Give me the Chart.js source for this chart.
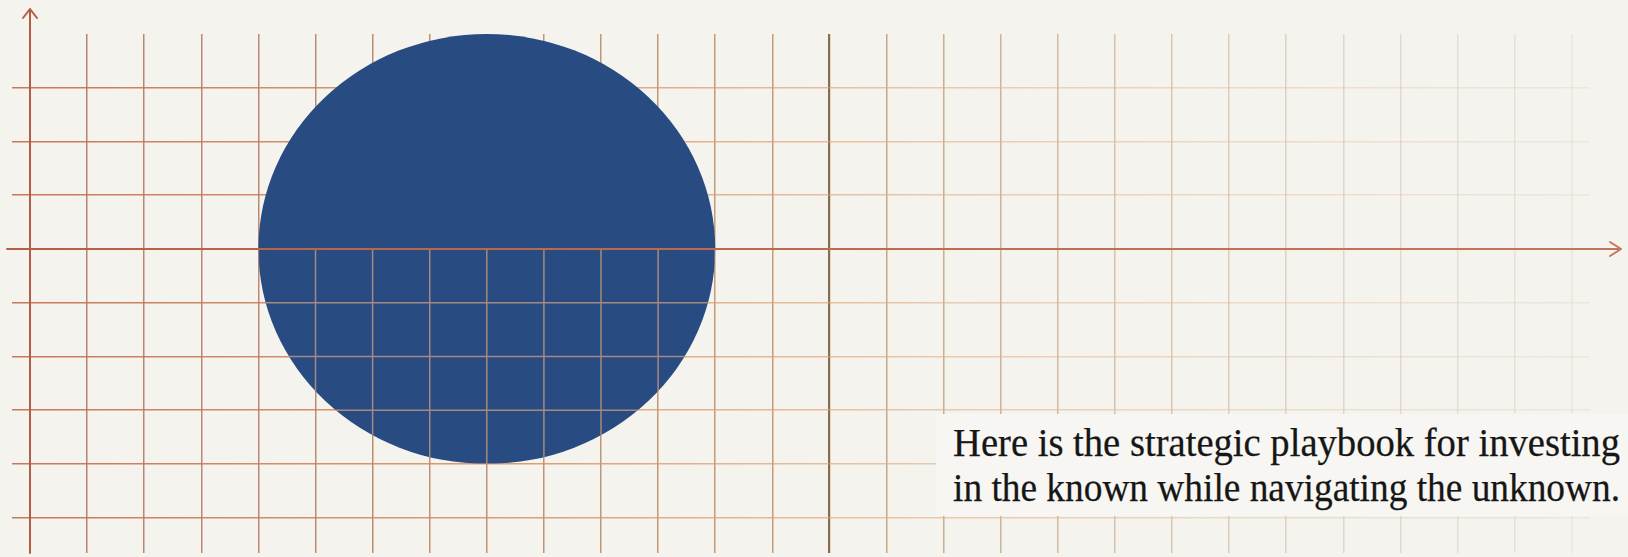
<!DOCTYPE html>
<html>
<head>
<meta charset="utf-8">
<script src="https://cdn.jsdelivr.net/npm/chart.js@4.4.1/dist/chart.umd.min.js"></script>
<style>
  html, body { margin: 0; padding: 0; background: #f5f3ee; }
  #wrap { position: relative; width: 1628px; height: 557px; overflow: hidden; }
  #note {
    position: absolute; left: 936px; top: 414px; width: 692px; height: 102px;
    background: #f7f6f2; box-sizing: border-box; padding: 6px 0 0 17px;
    font-family: "Liberation Serif", serif; font-size: 39px; line-height: 45px;
    color: #161616; white-space: nowrap; -webkit-text-stroke: 0.25px #161616;
  }
  #note span { display: block; width: max-content; transform-origin: 0 50%; }
</style>
</head>
<body>
<div id="wrap">
  <canvas id="chart" width="1628" height="557"></canvas>
  <div id="note"></div>
</div>
<script>
// grid cell units: y-axis at x = 0, x-axis at y = 0
var xRange = [0, 27.32];
var yRange = [-5.656, 4];
var emphasisColumn = 14;

// the blue disc, centre and radius in grid cells
var circleX = [8];
var circleY = [0];
var circleR = [4];

var noteLines = [
  'Here is the strategic playbook for investing',
  'in the known while navigating the unknown.'
];

var circleColor = '#284b82';

// both lines of the note run to the same right edge
var note = document.getElementById('note');
noteLines.forEach(function (txt) {
  var s = document.createElement('span');
  s.textContent = txt;
  note.appendChild(s);
  var w = s.getBoundingClientRect().width;
  s.style.transform = 'scaleX(' + (667 / w).toFixed(4) + ')';
});

function mix(a, b, t) {
  return a.map(function (v, i) { return v + (b[i] - v) * t; });
}

// vertical lines fade towards the right
function vColor(c) {
  var v = c.tick.value;
  if (v === 0) return 'rgba(0,0,0,0)';
  if (v === emphasisColumn) return 'rgba(128,102,62,0.95)';
  var t = v / xRange[1];
  var col = t < 0.5
    ? mix([172, 110, 88, 0.85], [182, 138, 88, 0.8], t / 0.5)
    : mix([182, 138, 88, 0.8], [205, 190, 175, 0.25], (t - 0.5) / 0.5);
  return 'rgba(' + col[0].toFixed(0) + ',' + col[1].toFixed(0) + ',' + col[2].toFixed(0) + ',' + col[3].toFixed(2) + ')';
}

function vWidth(c) {
  return c.tick.value === emphasisColumn ? 2.2 : 1.5;
}

// horizontal lines: gradient left to right
function hColor(c) {
  if (c.tick.value === yRange[1]) return 'rgba(0,0,0,0)';
  var chart = c.chart;
  if (!chart.chartArea) return 'rgba(200,120,80,0.8)';
  var g = chart.ctx.createLinearGradient(0, 0, chart.chartArea.right, 0);
  g.addColorStop(0, 'rgba(196,104,74,0.9)');
  g.addColorStop(0.35, 'rgba(214,140,92,0.8)');
  g.addColorStop(0.6, 'rgba(224,176,132,0.6)');
  g.addColorStop(1, 'rgba(226,202,182,0.3)');
  return g;
}

var ellipsePlugin = {
  id: 'ellipse',
  afterDatasetsDraw: function (chart) {
    var ctx = chart.ctx, area = chart.chartArea;
    var x = chart.scales.x, y = chart.scales.y;
    var ds = chart.data.datasets[0];
    chart.getDatasetMeta(0).data.forEach(function (pt, i) {
      var d = ds.data[i];
      var rx = x.getPixelForValue(d.x + d.r) - pt.x;
      var ry = pt.y - y.getPixelForValue(d.y + d.r);
      ctx.save();
      ctx.beginPath();
      ctx.ellipse(pt.x, pt.y, rx, ry, 0, 0, Math.PI * 2);
      ctx.fillStyle = circleColor;
      ctx.fill();
      // grid shows through the lower half only
      ctx.clip();
      ctx.beginPath();
      ctx.rect(area.left, pt.y, area.right - area.left, area.bottom - pt.y);
      ctx.clip();
      ctx.strokeStyle = 'rgba(232,170,128,0.66)';
      ctx.lineWidth = 1.5;
      ctx.beginPath();
      x.ticks.forEach(function (t) {
        var px = x.getPixelForValue(t.value);
        ctx.moveTo(px, area.top); ctx.lineTo(px, area.bottom);
      });
      y.ticks.forEach(function (t) {
        var py = y.getPixelForValue(t.value);
        ctx.moveTo(area.left, py); ctx.lineTo(area.right, py);
      });
      ctx.stroke();
      ctx.restore();
    });
  }
};

var axesPlugin = {
  id: 'arrowAxes',
  afterDatasetsDraw: function (chart) {
    var ctx = chart.ctx, area = chart.chartArea;
    var x0 = chart.scales.x.getPixelForValue(0);
    var y0 = chart.scales.y.getPixelForValue(0);
    ctx.save();
    ctx.lineWidth = 2;
    ctx.lineCap = 'round';
    ctx.lineJoin = 'round';
    // y axis
    ctx.strokeStyle = 'rgb(178,94,68)';
    ctx.beginPath();
    ctx.moveTo(x0, area.bottom);
    ctx.lineTo(x0, 9);
    ctx.moveTo(x0 - 7, 18);
    ctx.lineTo(x0, 9);
    ctx.lineTo(x0 + 7, 18);
    ctx.stroke();
    // x axis
    var g = ctx.createLinearGradient(0, 0, chart.width, 0);
    g.addColorStop(0, 'rgb(180,96,70)');
    g.addColorStop(1, 'rgb(196,118,92)');
    ctx.strokeStyle = g;
    ctx.beginPath();
    ctx.moveTo(7, y0);
    ctx.lineTo(1621, y0);
    ctx.moveTo(1610, y0 - 7);
    ctx.lineTo(1621, y0);
    ctx.lineTo(1610, y0 + 7);
    ctx.stroke();
    ctx.restore();
  }
};

new Chart(document.getElementById('chart'), {
  type: 'scatter',
  data: {
    datasets: [{
      data: circleX.map(function (v, i) { return { x: v, y: circleY[i], r: circleR[i] }; }),
      pointRadius: 0,
      pointHoverRadius: 0
    }]
  },
  options: {
    responsive: false,
    animation: false,
    events: [],
    layout: { padding: { left: 12, right: 38, top: 34, bottom: 4 } },
    plugins: { legend: { display: false }, tooltip: { enabled: false } },
    scales: {
      x: {
        type: 'linear', min: xRange[0], max: xRange[1],
        border: { display: false },
        ticks: { display: false, stepSize: 1, includeBounds: false },
        grid: { drawTicks: false, color: vColor, lineWidth: vWidth }
      },
      y: {
        type: 'linear', min: yRange[0], max: yRange[1],
        border: { display: false },
        ticks: { display: false, stepSize: 1, includeBounds: false },
        grid: { drawTicks: true, tickLength: 18, color: hColor, lineWidth: 1.5 }
      }
    }
  },
  plugins: [ellipsePlugin, axesPlugin]
});
</script>
</body>
</html>
